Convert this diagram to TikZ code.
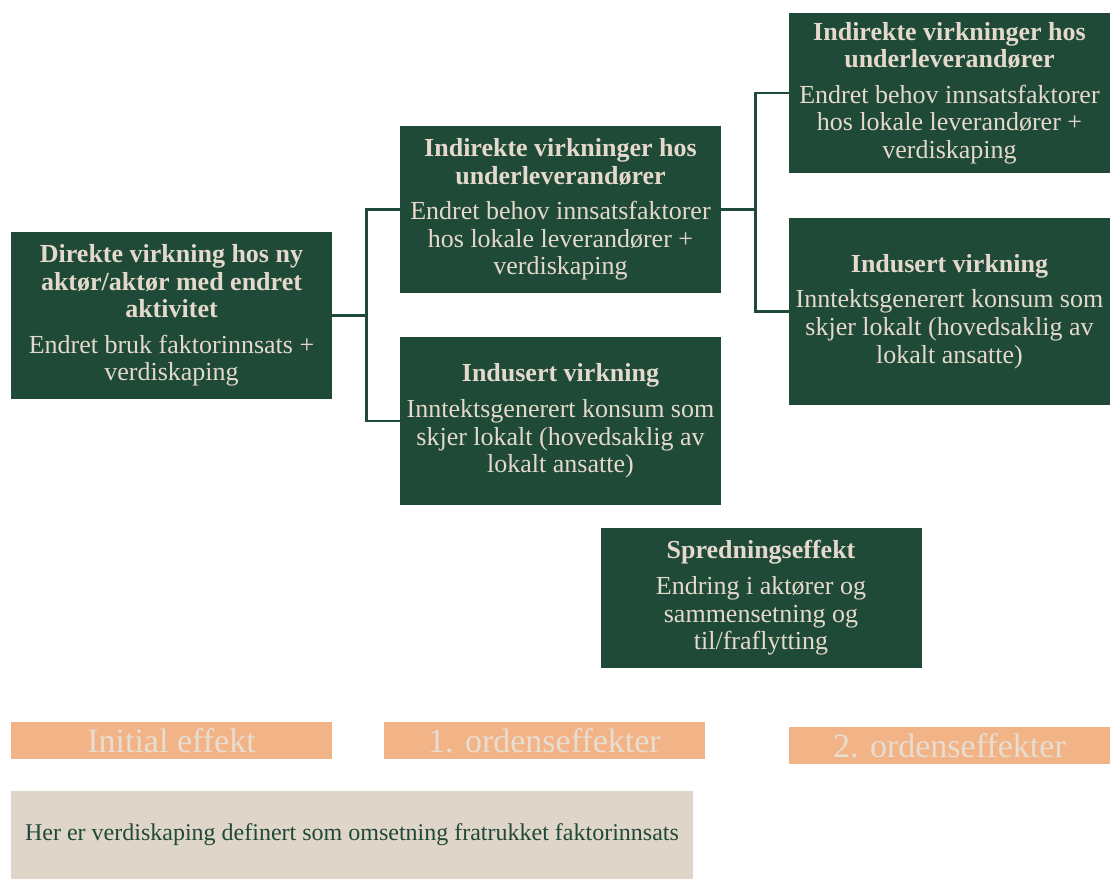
\documentclass[tikz,border=0pt]{standalone}
\usepackage{fontspec}
\setmainfont{Liberation Serif}
\usetikzlibrary{positioning}
\definecolor{skog}{HTML}{1F4A37}
\definecolor{krem}{HTML}{E4D9CC}
\definecolor{fersken}{HTML}{F2B487}
\definecolor{sand}{HTML}{E0D5C9}
\tikzset{virk/.style={fill=skog,text=krem,align=center,inner sep=1pt,minimum width=160.5pt,font=\fontsize{13}{13.8}\selectfont}}
\tikzset{fase/.style={fill=fersken,text=krem!90!white,minimum width=160.5pt,minimum height=18.5pt,inner sep=0pt,font=\fontsize{17}{18}\selectfont}}
\tikzset{gren/.style={draw=skog,line width=1.2pt}}

\begin{document}
\begin{tikzpicture}[x=0.5pt,y=-0.5pt]
        \useasboundingbox (0,0) rectangle (1110,879);

        \node[virk, minimum height=83.5pt] (dir) at (171.5,315.5) {\textbf{Direkte virkning hos ny}\\\textbf{aktør/aktør med endret}\\\textbf{aktivitet}\\[4pt]Endret bruk faktorinnsats +\\verdiskaping};

        \node[virk, minimum height=83.5pt] (ind1) at (560.5,209.5) {\textbf{Indirekte virkninger hos}\\\textbf{underleverandører}\\[4pt]Endret behov innsatsfaktorer\\hos lokale leverandører +\\verdiskaping};
        \node[virk, minimum height=84pt] (indu1) at (560.5,421) {\textbf{Indusert virkning}\\[4pt]Inntektsgenerert konsum som\\skjer lokalt (hovedsaklig av\\lokalt ansatte)};

        \node[virk, minimum height=80pt] (ind2) at (949.5,93) {\textbf{Indirekte virkninger hos}\\\textbf{underleverandører}\\[4pt]Endret behov innsatsfaktorer\\hos lokale leverandører +\\verdiskaping};
        \node[virk, minimum height=93.5pt] (indu2) at (949.5,311.5) {\textbf{Indusert virkning}\\[4pt]Inntektsgenerert konsum som\\skjer lokalt (hovedsaklig av\\lokalt ansatte)};

        \node[virk, minimum height=70pt] (spred) at (761,598) {\textbf{Spredningseffekt}\\[4pt]Endring i aktører og\\sammensetning og\\til/fraflytting};

        \node[fase] (f0) at (171.5,740.5) {Initial effekt};
        \node[fase] (f1) at (544.5,740.5) {1. ordenseffekter};
        \node[fase] (f2) at (949.5,745.5) {2. ordenseffekter};

        \node[fill=sand,text=skog,minimum width=341pt,minimum height=44pt,inner sep=0pt,font=\fontsize{12}{13}\selectfont] (merk) at (352,835) {Her er verdiskaping definert som omsetning fratrukket faktorinnsats};

        % forgreininger
        \coordinate (j1) at ([xshift=17pt]dir.east);
        \coordinate (j2) at ([xshift=17pt]ind1.east);
        \draw[gren] (dir.east) -- (j1);
        \draw[gren] (ind1.west) -| (j1) |- (indu1.west);
        \draw[gren] (ind1.east) -- (j2);
        \draw[gren] (ind2.west) -| (j2) |- (indu2.west);
    \end{tikzpicture}
\end{document}
